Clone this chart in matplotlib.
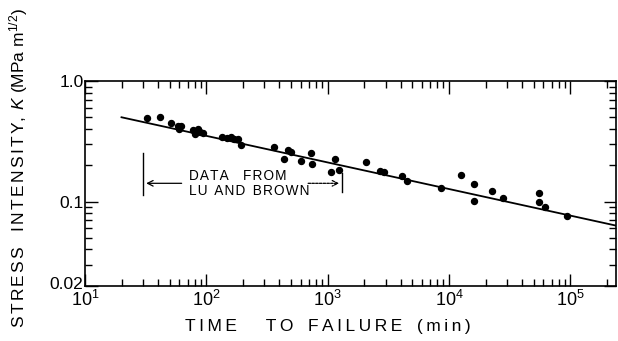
import matplotlib
matplotlib.use("Agg")
import matplotlib.pyplot as plt
import matplotlib.transforms as mtransforms
import numpy as np
from matplotlib.ticker import LogLocator, NullFormatter, FixedLocator, FixedFormatter

plt.rcParams['font.family'] = ['Liberation Sans', 'DejaVu Sans']
plt.rcParams['mathtext.fontset'] = 'custom'
plt.rcParams['mathtext.rm'] = 'Liberation Sans'
plt.rcParams['mathtext.it'] = 'Liberation Sans:italic'

# data: time to failure (min), stress intensity K (MPa m^1/2)
time_min = [32.5, 41.8, 50.9, 58.2, 62, 59.7, 78.4, 86.1, 88.9, 94.6, 81,
            135.8, 147.6, 159, 169.5, 184, 192.7, 360, 438, 470, 501, 602,
            723, 747, 1071, 1141, 1231, 2056, 2680, 2890, 4100, 4475, 8650,
            12480, 16200, 16100, 22800, 28100, 54700, 55000, 62400, 94200]
stress_k = [0.493, 0.50, 0.451, 0.426, 0.426, 0.397, 0.392, 0.397, 0.375, 0.372, 0.363,
            0.345, 0.338, 0.341, 0.330, 0.328, 0.294, 0.283, 0.225, 0.268, 0.256, 0.216,
            0.251, 0.204, 0.177, 0.225, 0.183, 0.213, 0.180, 0.176, 0.164, 0.148, 0.130,
            0.167, 0.141, 0.101, 0.122, 0.107, 0.118, 0.0996, 0.0895, 0.0762]

# fitted line endpoints
fit_t = [20, 2.4e5]
fit_k = [0.50, 0.063]

xtick_vals = [1e1, 1e2, 1e3, 1e4, 1e5]
xtick_labels = ['$10^{1}$', '$10^{2}$', '$10^{3}$', '$10^{4}$', '$10^{5}$']
ytick_vals = [0.02, 0.1, 1.0]
ytick_labels = ['0.02', '0.1', '1.0']

fig = plt.figure(figsize=(6.18, 3.41), dpi=100)
ax = fig.add_axes([0.1375, 0.162, 0.860, 0.6005])
ax.set_xscale('log')
ax.set_yscale('log')
ax.set_xlim(10, 2.4e5)
ax.set_ylim(0.02, 1.0)

ax.plot(fit_t, fit_k, color='black', lw=1.3)
ax.plot(time_min, stress_k, 'o', color='black', ms=4.3, mec='black')

ax.xaxis.set_major_locator(FixedLocator(xtick_vals))
ax.xaxis.set_major_formatter(FixedFormatter(xtick_labels))
ax.xaxis.set_minor_locator(LogLocator(base=10, subs=np.arange(2, 10)))
ax.xaxis.set_minor_formatter(NullFormatter())
ax.yaxis.set_major_locator(FixedLocator(ytick_vals))
ax.yaxis.set_major_formatter(FixedFormatter(ytick_labels))
ax.yaxis.set_minor_locator(LogLocator(base=10, subs=np.arange(2, 10)))
ax.yaxis.set_minor_formatter(NullFormatter())

ax.tick_params(which='both', direction='in', top=True, right=True, width=1.0)
ax.tick_params(which='major', length=9)
ax.tick_params(which='minor', length=5)
ax.tick_params(axis='x', which='major', labelsize=13, pad=3)
ax.tick_params(axis='y', which='major', labelsize=12.5, pad=1)
for s in ax.spines.values():
    s.set_linewidth(1.2)

# nudge the bottom y label (0.02) slightly upward, as in the original
tick0 = ax.yaxis.get_major_ticks()[0]
tick0.label1.set_transform(tick0.label1.get_transform()
                           + mtransforms.ScaledTranslation(0, 3 / 100, fig.dpi_scale_trans))

ts = '\u2009'
hs = '\u200a'
xlab = (ts.join('TIME') + '      ' + ts.join('TO') + '   ' + ts.join('FAILURE')
        + '   ' + ts.join('(min)'))
ax.set_xlabel(xlab, fontsize=12.5)
ax.xaxis.set_label_coords(0.457, -0.162)
ax.set_ylabel(r'$\mathrm{S\,T\,R\,E\,S\,S\quad I\,N\,T\,E\,N\,S\,I\,T\,Y,}\ \mathit{K}\ \mathrm{(MPa\ m^{1/2})}$',
              fontsize=12.5)
ax.yaxis.set_label_coords(-0.103, 0.575)

# annotation: data range bracket
ax.plot([30.3, 30.3], [0.113, 0.252], color='black', lw=1.0)
ax.plot([1312, 1312], [0.12, 0.172], color='black', lw=1.0)
ax.annotate('', xy=(30.3, 0.1416), xytext=(66, 0.1416),
            arrowprops=dict(arrowstyle='->', color='black', lw=0.9))
ax.annotate('', xy=(1312, 0.1416), xytext=(655, 0.1416),
            arrowprops=dict(arrowstyle='->', color='black', lw=0.9, linestyle=(0, (2, 1))))
line1 = hs.join('DATA') + '    ' + hs.join('FROM')
line2 = hs.join('LU') + '  ' + hs.join('AND') + '  ' + hs.join('BROWN')
ax.text(72, 0.1416, line1 + '\n' + line2, fontsize=9.8, ha='left', va='center',
        linespacing=1.12)

fig.savefig('out.png', dpi=100)
